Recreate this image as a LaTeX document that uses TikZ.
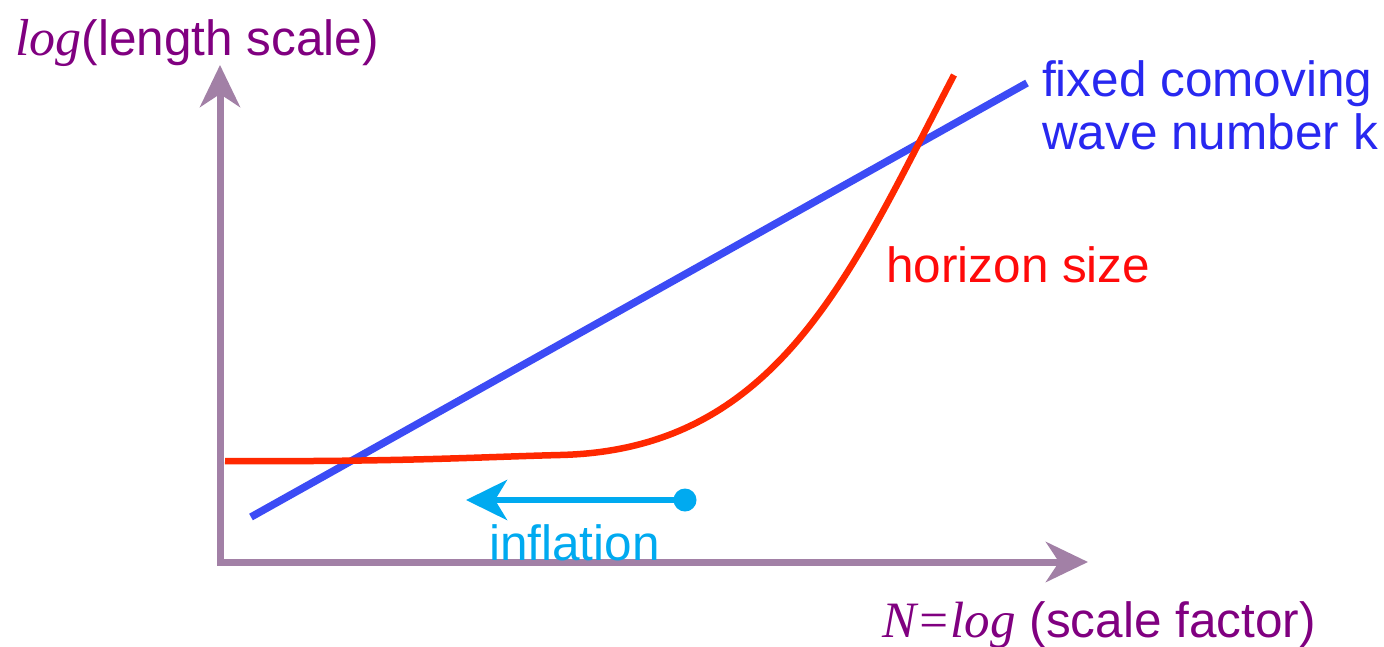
\documentclass[tikz,border=0pt]{standalone}
\usepackage{fontspec}
\setmainfont{Liberation Sans}
\newfontfamily\tnr{Liberation Serif}
\usetikzlibrary{arrows.meta}
\definecolor{txtpurple}{RGB}{128,0,128}
\definecolor{axiscol}{RGB}{162,128,166}
\definecolor{kblue}{RGB}{60,75,245}
\definecolor{ktext}{RGB}{40,40,240}
\definecolor{hred}{RGB}{255,40,0}
\definecolor{htext}{RGB}{255,10,10}
\definecolor{infl}{RGB}{0,170,240}
\tikzset{
  lbl/.style={inner sep=0pt, anchor=base west, font=\fontsize{49.5}{54}\selectfont},
  axisline/.style={draw=axiscol, line width=7pt, line join=miter,
    {Stealth[length=42pt,width=40pt,inset=13pt]}-{Stealth[length=42pt,width=40pt,inset=13pt]}},
}
\begin{document}
\begin{tikzpicture}[x=1pt,y=-1pt]
\useasboundingbox (0,0) rectangle (1384,646);
% axes
\coordinate (ytip) at (220,65);
\coordinate (origin) at (220,562);
\coordinate (xtip) at (1088,562);
\path[axisline] (ytip) -- (origin) -- (xtip);
% blue line
\coordinate (kstart) at (251,517);
\coordinate (kend) at (1027,83);
\draw[kblue, line width=7.5pt] (kstart) -- (kend);
% red curve
\coordinate (hstart) at (225,461);
\coordinate (hmid) at (560,455);
\coordinate (hend) at (954,75);
\draw[hred, line width=6.5pt, line cap=butt] (hstart) .. controls (400,462) and (480,457) .. (hmid)
  .. controls (780,450) and (852,270) .. (hend);
% inflation arrow
\coordinate (istart) at (685,500);
\coordinate (iend) at (466,500);
\fill[infl] (istart) circle (11.5pt);
\draw[infl, line width=6pt, -{Stealth[length=41pt,width=40pt,inset=12pt]}] (istart) -- (iend);
% labels
\node[lbl, text=txtpurple] (ylab) at (15,55) {{\tnr\itshape\fontsize{52}{56}\selectfont log}(length scale)};
\node[lbl, text=ktext] (k1) at (1042,96) {fixed comoving};
\node[lbl, text=ktext] (k2) at (1042,149) {wave number k};
\node[lbl, text=htext] (hlab) at (886,282) {horizon size};
\node[lbl, text=infl] (ilab) at (489,560) {inflation};
\node[lbl, text=txtpurple] (xlab) at (882,637) {{\tnr\itshape\fontsize{51}{55}\selectfont N=log} (scale factor)};
\end{tikzpicture}
\end{document}
